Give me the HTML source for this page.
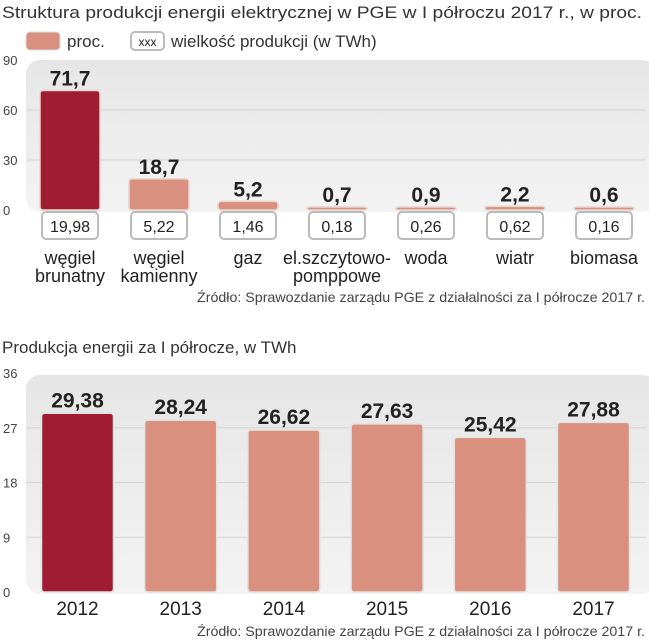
<!DOCTYPE html>
<html><head><meta charset="utf-8"><style>
body{margin:0;background:#fff;}
svg{display:block;font-family:"Liberation Sans",sans-serif;}
</style></head><body>
<svg id="c" width="649" height="640" viewBox="0 0 649 640">
<defs>
<linearGradient id="pg" x1="0" y1="0" x2="0" y2="1"><stop offset="0" stop-color="#e6e6e6"/><stop offset="1" stop-color="#f3f3f3"/></linearGradient>
</defs>
<text x="2" y="18" font-size="17" fill="#333" textLength="640" lengthAdjust="spacingAndGlyphs">Struktura produkcji energii elektrycznej w PGE w I półroczu 2017 r., w proc.</text>
<g>
<rect x="26" y="32" width="34" height="18" rx="4" fill="#d9907e" stroke="#ddd"/>
<text x="67" y="47" font-size="17" fill="#333">proc.</text>
<rect x="131" y="32" width="33" height="18" rx="4" fill="#fff" stroke="#bbb" stroke-width="2"/>
<text x="147.5" y="46" font-size="12" text-anchor="middle" fill="#222">xxx</text>
<text x="171" y="47" font-size="17" fill="#333">wielkość produkcji (w TWh)</text>
</g>
<rect x="26" y="60" width="630" height="152" rx="14" fill="url(#pg)"/>
<g id="top"></g>
<text x="645" y="302" font-size="14" fill="#444" text-anchor="end" textLength="448" lengthAdjust="spacingAndGlyphs">Źródło: Sprawozdanie zarządu PGE z działalności za I półrocze 2017 r.</text>
<text x="2" y="353" font-size="17" fill="#333">Produkcja energii za I półrocze, w TWh</text>
<rect x="26" y="375" width="630" height="219" rx="14" fill="url(#pg)"/>
<g id="bot"></g>
<text x="645" y="636" font-size="14" fill="#444" text-anchor="end" textLength="448" lengthAdjust="spacingAndGlyphs">Źródło: Sprawozdanie zarządu PGE z działalności za I półrocze 2017 r.</text>
</svg>
<script>
const topCats=[["węgiel","brunatny"],["węgiel","kamienny"],["gaz"],["el.szczytowo-","pomppowe"],["woda"],["wiatr"],["biomasa"]];
const topPct=[71.7,18.7,5.2,0.7,0.9,2.2,0.6];
const topPctLabels=["71,7","18,7","5,2","0,7","0,9","2,2","0,6"];
const topTwh=["19,98","5,22","1,46","0,18","0,26","0,62","0,16"];
const topTicks=[0,30,60,90];
const botCats=["2012","2013","2014","2015","2016","2017"];
const botVals=[29.38,28.24,26.62,27.63,25.42,27.88];
const botLabels=["29,38","28,24","26,62","27,63","25,42","27,88"];
const botTicks=[0,9,18,27,36];
const NS="http://www.w3.org/2000/svg";
function mk(p,t,a,txt){const e=document.createElementNS(NS,t);for(const k in a)e.setAttribute(k,a[k]);if(txt!=null)e.textContent=txt;p.appendChild(e);return e;}
const yT=v=>210-v*(150/90);
const xT=i=>70+i*89;
const yB=v=>592-v*(219/36);
const xB=i=>77.5+i*103.2;
const gt=document.getElementById('top'),gb=document.getElementById('bot');
topTicks.forEach(t=>{
 if(t>0&&t<90){const l=mk(gt,'line',{x1:26,x2:646,y1:yT(t),y2:yT(t),stroke:'#d4d4d4'});
 
 }
 const tx=mk(gt,'text',{x:3,y:yT(t)+5,'font-size':13,fill:'#444'},t);
 
 
});
topPct.forEach((v,i)=>{
 const x=xT(i);const h=Math.max(210-yT(v),3);
 const r=mk(gt,'rect',{x:x-30,y:210-h,width:60,height:h,rx:3,fill:i==0?'#a01c33':'#d9907e',stroke:'#e8d6d0','stroke-width':1.5});
 
 
 const vl=mk(gt,'text',{x:x,y:210-h-5,'font-size':21,'font-weight':'bold','text-anchor':'middle',fill:'#222'},topPctLabels[i]);
 
 
 const b=mk(gt,'rect',{x:x-28,y:212,width:56,height:27,rx:4,fill:'#fff',stroke:'#bbb','stroke-width':2});
 
 
 const bt=mk(gt,'text',{x:x,y:232,'font-size':16,'text-anchor':'middle',fill:'#222'},topTwh[i]);
 
 
 topCats[i].forEach((s,j)=>{
  const c=mk(gt,'text',{x:x,y:264+j*18,'font-size':18,'text-anchor':'middle',fill:'#222'},s);
  
  
 });
});
botTicks.forEach(t=>{
 if(t>0&&t<36){const l=mk(gb,'line',{x1:26,x2:646,y1:yB(t),y2:yB(t),stroke:'#d4d4d4'});
 
 }
 const tx=mk(gb,'text',{x:3,y:yB(t)+5,'font-size':13,fill:'#444'},t);
 
 
});
botVals.forEach((v,i)=>{
 const x=xB(i);
 const r=mk(gb,'rect',{x:x-36,y:yB(v),width:72,height:592-yB(v),rx:3,fill:i==0?'#a01c33':'#d9907e',stroke:'#e2e2e2','stroke-width':1.5});
 
 
 const vl=mk(gb,'text',{x:x,y:yB(v)-6,'font-size':21,'font-weight':'bold','text-anchor':'middle',fill:'#222'},botLabels[i]);
 
 
 const c=mk(gb,'text',{x:x,y:615,'font-size':19,'text-anchor':'middle',fill:'#222'},botCats[i]);
 
 
});
</script>
</body></html>
